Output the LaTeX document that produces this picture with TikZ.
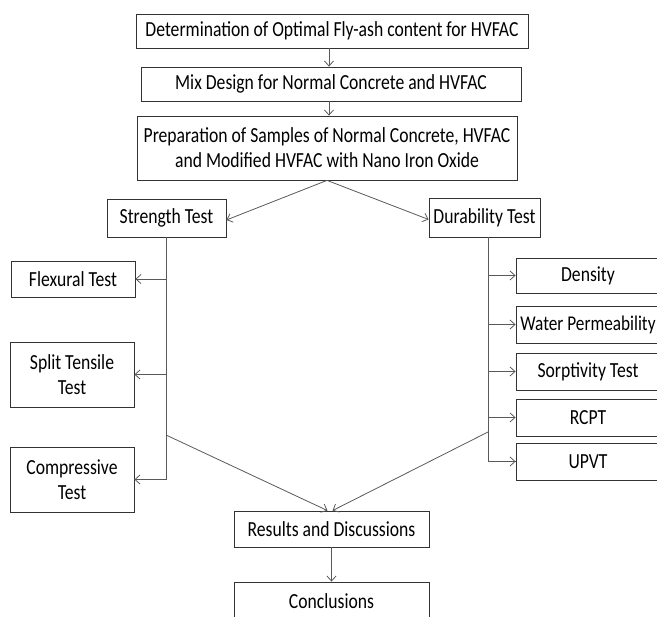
\documentclass[tikz,border=0pt]{standalone}
\usepackage{fontspec}
\setmainfont{Carlito}[FakeStretch=0.82]
\usetikzlibrary{arrows.meta}

\begin{document}
\begin{tikzpicture}[x=1pt,y=-1pt,font=\fontsize{21.5}{25}\selectfont,
	link/.style={draw=black!65,line width=0.8pt,-{Straight Barb[length=5pt,width=9pt]}},
	trunk/.style={draw=black!65,line width=0.8pt}]
				\useasboundingbox (0,0) rectangle (657,617);
				
				\begin{scope}[every node/.style={rectangle,draw=black!80,line width=0.8pt,inner sep=0pt,align=center}]
					\node[minimum width=392pt,minimum height=34pt] (determination) at (332,31) {Determination of Optimal Fly-ash content for HVFAC};
					\node[minimum width=380pt,minimum height=34pt] (mixdesign) at (331,84) {Mix Design for Normal Concrete and HVFAC};
					\node[minimum width=380pt,minimum height=64pt] (preparation) at (327,148) {Preparation of Samples of Normal Concrete, HVFAC\\and Modified HVFAC with Nano Iron Oxide};
					\node[minimum width=119pt,minimum height=38pt] (strength) at (166.5,218) {Strength Test};
					\node[minimum width=111pt,minimum height=39pt] (durability) at (484.5,217.5) {Durability Test};
					\node[minimum width=124pt,minimum height=36pt] (flexural) at (73,279) {Flexural Test};
					\node[minimum width=124pt,minimum height=65pt] (splittensile) at (72,374.5) {Split Tensile\\Test};
					\node[minimum width=124pt,minimum height=65pt] (compressive) at (72,479.5) {Compressive\\Test};
					\node[minimum width=144pt,minimum height=35pt] (density) at (588,275.5) {Density};
					\node[minimum width=144pt,minimum height=37pt] (water) at (588,324.5) {\fontsize{21}{25}\selectfont Water Permeability};
					\node[minimum width=144pt,minimum height=37pt] (sorptivity) at (588,371.5) {Sorptivity Test};
					\node[minimum width=144pt,minimum height=37pt] (rcpt) at (588,417.5) {RCPT};
					\node[minimum width=144pt,minimum height=37pt] (upvt) at (588,461.5) {UPVT};
					\node[minimum width=195pt,minimum height=36pt] (results) at (331.5,529) {Results and Discussions};
					\node[minimum width=195pt,minimum height=38pt] (conclusions) at (331.5,601) {Conclusions};
				\end{scope}
				
				\coordinate (strengthtop) at (166,237);
				\coordinate (strengthjoin) at (166,435);
				\coordinate (durabilitytop) at (488,237);
				\coordinate (durabilityjoin) at (488,432);
				
				\draw [link] (determination.south -| 329,0) -- (mixdesign.north -| 329,0);
				\draw [link] (mixdesign.south -| 329,0) -- (preparation.north -| 329,0);
				\draw [link] (preparation.south) -- ([yshift=-2pt]strength.east);
				\draw [link] (preparation.south) -- ([yshift=-2pt]durability.west);
				
				\draw [trunk] (strengthtop) |- (compressive.east);
				\draw [link] (strengthtop |- flexural.east) -- (flexural.east);
				\draw [link] (strengthtop |- splittensile.east) -- (splittensile.east);
				\draw [link] (strengthtop |- compressive.east) -- (compressive.east);
				
				\draw [trunk] (durabilitytop) |- (upvt.west);
				\draw [link] (durabilitytop |- density.west) -- (density.west);
				\draw [link] (durabilitytop |- water.west) -- (water.west);
				\draw [link] (durabilitytop |- sorptivity.west) -- (sorptivity.west);
				\draw [link] (durabilitytop |- rcpt.west) -- (rcpt.west);
				\draw [link] (durabilitytop |- upvt.west) -- (upvt.west);
				
				\draw [link] (strengthjoin) -- ([xshift=-4pt]results.north);
				\draw [link] (durabilityjoin) -- ([xshift=1pt]results.north);
				\draw [link] (results.south) -- (conclusions.north);
			\end{tikzpicture}
\end{document}
